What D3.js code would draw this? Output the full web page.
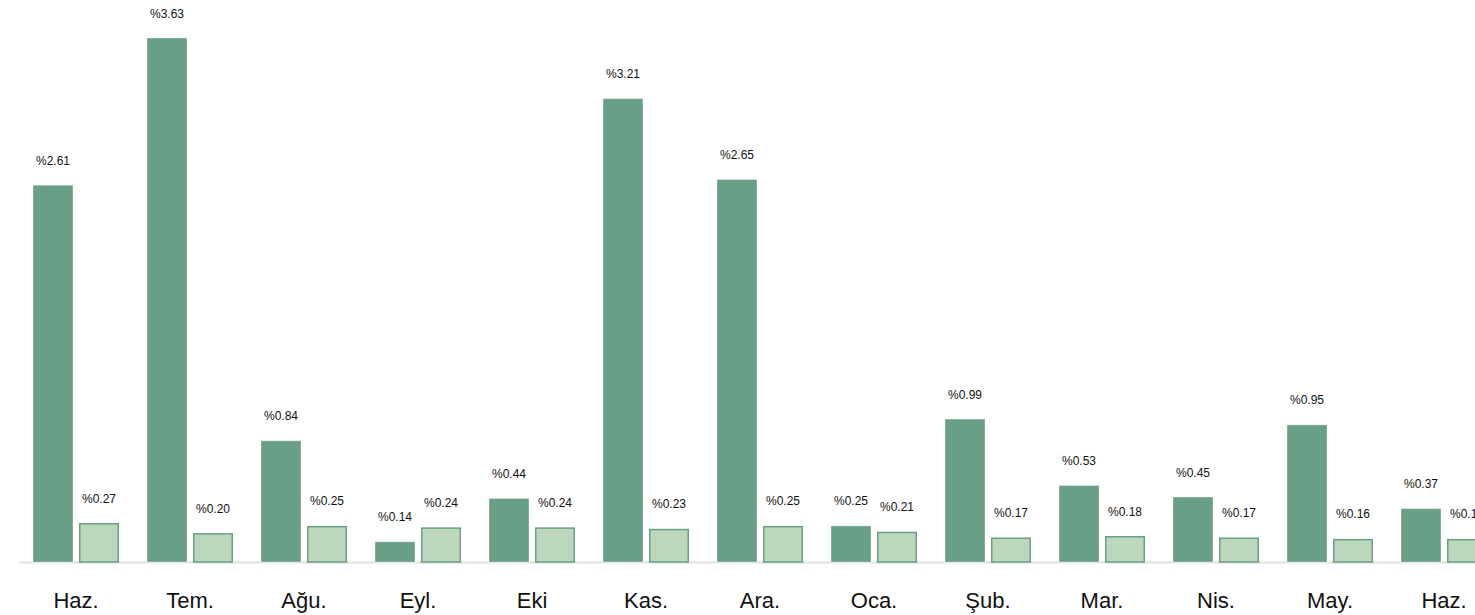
<!DOCTYPE html>
<html><head><meta charset="utf-8">
<script src="https://cdn.jsdelivr.net/npm/d3@7"></script>
<style>html,body{margin:0;padding:0;background:#fff;overflow:hidden}</style>
</head><body>
<script>
const categories = ["Haz.","Tem.","Ağu.","Eyl.","Eki","Kas.","Ara.","Oca.","Şub.","Mar.","Nis.","May.","Haz."];
const seriesA = [2.61,3.63,0.84,0.14,0.44,3.21,2.65,0.25,0.99,0.53,0.45,0.95,0.37];
const seriesB = [0.27,0.20,0.25,0.24,0.24,0.23,0.25,0.21,0.17,0.18,0.17,0.16,0.16];

const W = 1475, H = 615;
const svg = d3.select("body").append("svg").attr("width", W).attr("height", H)
  .style("font-family", "'Liberation Sans', Arial, Helvetica, sans-serif");

const baseY = 562;
const x0 = d3.scaleBand().domain(d3.range(categories.length))
  .range([19, 19 + 13 * 114]).paddingInner(28/114).paddingOuter(14/114);
const x1 = d3.scaleBand().domain(["a","b"]).range([0, x0.bandwidth()]).paddingInner(6/46).paddingOuter(0);
const y = d3.scaleLinear().domain([0, 3.63]).range([baseY, 38]);

svg.append("line").attr("x1", 19).attr("x2", W).attr("y1", baseY + 0.5).attr("y2", baseY + 0.5)
  .attr("stroke", "#e2e2e2").attr("stroke-width", 2);

const g = svg.selectAll("g.grp").data(categories).join("g").attr("class","grp")
  .attr("transform", (d,i) => `translate(${x0(i)},0)`);

g.append("rect").attr("x", x1("a")).attr("width", x1.bandwidth())
  .attr("y", (d,i) => y(seriesA[i])).attr("height", (d,i) => baseY - y(seriesA[i]))
  .attr("fill", "#6a9f87").attr("stroke", "rgba(255,255,255,0.35)").attr("stroke-width", 1);
g.append("rect").attr("x", x1("b") + 0.75).attr("width", x1.bandwidth() - 1.5)
  .attr("y", (d,i) => y(seriesB[i]) + 0.75).attr("height", (d,i) => baseY - y(seriesB[i]) - 0.75)
  .attr("fill", "#bcd7bc").attr("stroke", "#6a9f87").attr("stroke-width", 1.5);

g.append("text").attr("x", x1("a") + x1.bandwidth()/2).attr("y", (d,i) => y(seriesA[i]) - 20.5)
  .attr("text-anchor","middle").attr("font-size", 12).attr("fill","#111")
  .text((d,i) => "%" + seriesA[i].toFixed(2));
g.append("text").attr("x", x1("b") + x1.bandwidth()/2).attr("y", (d,i) => y(seriesB[i]) - 20.5)
  .attr("text-anchor","middle").attr("font-size", 12).attr("fill","#111")
  .text((d,i) => "%" + seriesB[i].toFixed(2));

g.append("text").attr("x", x0.bandwidth()/2).attr("y", 608)
  .attr("text-anchor","middle").attr("font-size", 22).attr("fill","#111")
  .text(d => d);
</script>
</body></html>
